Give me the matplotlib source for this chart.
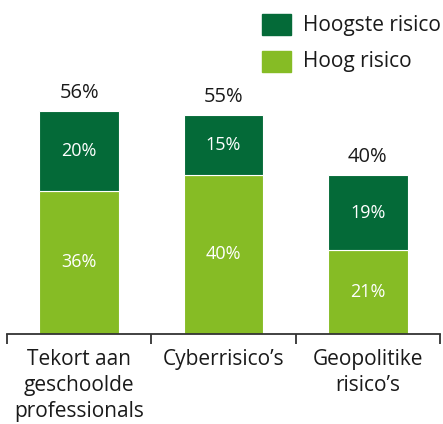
import numpy as np
import matplotlib.pyplot as plt

categories = ['Tekort aan\ngeschoolde\nprofessionals', 'Cyberrisico\u2019s', 'Geopolitike\nrisico\u2019s']
hoog = [36, 40, 21]
hoogste = [20, 15, 19]
totals = [56, 55, 40]

dark = '#046a38'
light = '#86bc25'
txt = '#1a1a1a'

plt.rcParams['font.family'] = ['Open Sans', 'DejaVu Sans']

fig = plt.figure(figsize=(4.43, 4.24), dpi=100)
ax = fig.add_axes([7 / 443, 1 - 334 / 424, 433 / 443, 334 / 424])

x = np.arange(len(categories))
ax.bar(x, hoog, width=0.55, color=light, edgecolor='white', linewidth=0.8)
ax.bar(x, hoogste, width=0.55, bottom=hoog, color=dark, edgecolor='white', linewidth=0.8)

for i in x:
    ax.text(i, hoog[i] / 2, f'{hoog[i]}%', ha='center', va='center', color='white', fontsize=13)
    ax.text(i, hoog[i] + hoogste[i] / 2, f'{hoogste[i]}%', ha='center', va='center', color='white', fontsize=13)
    ax.text(i, totals[i] + 2.0, f'{totals[i]}%', ha='center', va='bottom', color=txt, fontsize=14.5)

ax.set_xlim(-0.5, 2.5)
ax.set_ylim(0, 334 / 3.98)
for s in ['top', 'right', 'left']:
    ax.spines[s].set_visible(False)
ax.spines['bottom'].set_color('#333333')
ax.spines['bottom'].set_linewidth(1.3)
ax.set_yticks([])
ax.set_xticks([-0.5, 0.5, 1.5, 2.5])
ax.set_xticklabels([])
ax.set_xticks(x, minor=True)
ax.set_xticklabels(categories, minor=True, fontsize=15, color=txt, linespacing=1.3)
ax.tick_params(axis='x', which='major', length=7, width=1.3, color='#333333')
ax.tick_params(axis='x', which='minor', length=0, pad=11)

# legend
fig.patches.append(plt.Rectangle((262 / 443, 1 - 35 / 424), 29 / 443, 21 / 424,
                                 transform=fig.transFigure, color=dark))
fig.patches.append(plt.Rectangle((262 / 443, 1 - 72 / 424), 29 / 443, 21 / 424,
                                 transform=fig.transFigure, color=light))
fig.text(303 / 443, 1 - 25 / 424, 'Hoogste risico', va='center', ha='left', fontsize=15, color=txt)
fig.text(303 / 443, 1 - 62 / 424, 'Hoog risico', va='center', ha='left', fontsize=15, color=txt)

fig.savefig('out.png', dpi=100)
